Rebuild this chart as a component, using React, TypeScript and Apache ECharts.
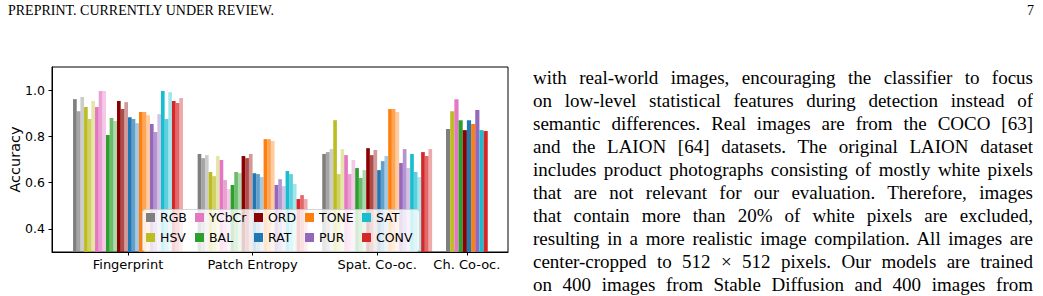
import React, { useEffect, useRef } from "react";
import * as echarts from "echarts";

const methods = ["RGB", "HSV", "YCbCr", "BAL", "ORD", "RAT", "TONE", "PUR", "SAT", "CONV"];
const methodColors = ["#7f7f7f", "#bcbd22", "#e377c2", "#2ca02c", "#8b0000", "#1f77b4", "#ff7f0e", "#9467bd", "#17becf", "#d62728"];
const groupLabels = ["Fingerprint", "Patch Entropy", "Spat. Co-oc.", "Ch. Co-oc."];
const groupCenters = [0, 1, 2, 2.72];
const shadeAlpha = [1, 0.7, 0.4];
const yTicks = [0.4, 0.6, 0.8, 1.0];

// accuracy per method, three variants each
const fingerprintAcc = [
  [0.961, 0.909, 0.970],
  [0.927, 0.875, 0.953],
  [0.927, 0.996, 0.996],
  [0.806, 0.879, 0.866],
  [0.953, 0.918, 0.948],
  [0.883, 0.875, 0.857],
  [0.905, 0.905, 0.892],
  [0.853, 0.819, 0.896],
  [0.996, 0.875, 0.991],
  [0.953, 0.944, 0.966],
];
const patchEntropyAcc = [
  [0.724, 0.706, 0.719],
  [0.646, 0.628, 0.715],
  [0.698, 0.611, 0.572],
  [0.590, 0.646, 0.641],
  [0.715, 0.706, 0.724],
  [0.641, 0.637, 0.624],
  [0.788, 0.788, 0.780],
  [0.590, 0.615, 0.585],
  [0.650, 0.637, 0.594],
  [0.529, 0.546, 0.529],
];
const spatCoocAcc = [
  [0.724, 0.732, 0.745],
  [0.870, 0.637, 0.745],
  [0.719, 0.637, 0.698],
  [0.663, 0.620, 0.654],
  [0.749, 0.719, 0.741],
  [0.654, 0.693, 0.715],
  [0.918, 0.918, 0.905],
  [0.685, 0.745, 0.663],
  [0.724, 0.646, 0.624],
  [0.732, 0.715, 0.745],
];
const chCoocAcc = [0.832, 0.909, 0.961, 0.870, 0.827, 0.870, 0.853, 0.914, 0.827, 0.823];

const paragraphLines = [
  "with real-world images, encouraging the classifier to focus",
  "on low-level statistical features during detection instead of",
  "semantic differences. Real images are from the COCO [63]",
  "and the LAION [64] datasets. The original LAION dataset",
  "includes product photographs consisting of mostly white pixels",
  "that are not relevant for our evaluation. Therefore, images",
  "that contain more than 20% of white pixels are excluded,",
  "resulting in a more realistic image compilation. All images are",
  "center-cropped to 512 \u00d7 512 pixels. Our models are trained",
  "on 400 images from Stable Diffusion and 400 images from",
];

const Y_MIN = 0.3;
const Y_MAX = 1.1;
const W3 = 0.0294;
const W1 = 0.0335;

function hexToRgba(hex: string, a: number) {
  const n = parseInt(hex.slice(1), 16);
  return `rgba(${(n >> 16) & 255},${(n >> 8) & 255},${n & 255},${a})`;
}

function buildSeries() {
  const tripleGroups = [fingerprintAcc, patchEntropyAcc, spatCoocAcc];
  return methods.map((name, k) => {
    const data: number[][] = [];
    tripleGroups.forEach((grp, g) => {
      grp[k].forEach((v, s) => {
        const j = k * 3 + s;
        data.push([groupCenters[g] + (j - 14.5) * W3, v, shadeAlpha[s], W3]);
      });
    });
    data.push([groupCenters[3] + (k - 4.5) * W1, chCoocAcc[k], 1, W1]);
    const color = methodColors[k];
    return {
      type: "custom",
      name,
      itemStyle: { color },
      encode: { x: 0, y: 1 },
      data,
      renderItem: (params: any, api: any) => {
        const x = api.value(0);
        const v = api.value(1);
        const a = api.value(2);
        const w = api.value(3);
        const p1 = api.coord([x - w / 2, v]);
        const p2 = api.coord([x + w / 2, Y_MIN]);
        return {
          type: "rect",
          shape: { x: p1[0], y: p1[1], width: p2[0] - p1[0], height: p2[1] - p1[1] },
          style: { fill: hexToRgba(color, a) },
        };
      },
    };
  });
}

const legendColLeft = [146, 195, 254, 305, 362];
const legendRowTop = [211, 231];

function buildLegends() {
  // column-major: two entries per column
  return methods.map((name, k) => ({
    data: [name],
    left: legendColLeft[Math.floor(k / 2)],
    top: legendRowTop[k % 2],
    padding: 0,
    icon: "rect",
    itemWidth: 9,
    itemHeight: 9,
    selectedMode: false,
    z: 20,
    textStyle: { fontSize: 12.5, fontFamily: "DejaVu Sans", color: "#000" },
  }));
}

export default function App() {
  const ref = useRef<HTMLDivElement>(null);
  useEffect(() => {
    if (!ref.current) return;
    const chart = echarts.init(ref.current, null, { renderer: "svg" });
    const option: any = {
      animation: false,
      textStyle: { fontFamily: "DejaVu Sans" },
      grid: {
        left: 52,
        top: 67,
        width: 456,
        height: 185,
        show: true,
        borderColor: "#000",
        borderWidth: 1,
        backgroundColor: "transparent",
        containLabel: false,
        outerBoundsMode: "none",
      },
      xAxis: {
        type: "value",
        min: -0.61,
        max: 3.05,
        splitLine: { show: false },
        axisLine: { show: true, onZero: false, lineStyle: { color: "#000", width: 1 } },
        axisTick: { show: true, customValues: groupCenters, length: 3.5, lineStyle: { color: "#000" } },
        axisLabel: {
          customValues: groupCenters,
          formatter: (v: number) => {
            const i = groupCenters.findIndex((c) => Math.abs(c - v) < 1e-6);
            return i >= 0 ? groupLabels[i] : "";
          },
          fontSize: 13,
          fontFamily: "DejaVu Sans",
          color: "#000",
          margin: 6,
        },
      },
      yAxis: {
        type: "value",
        min: Y_MIN,
        max: Y_MAX,
        splitLine: { show: false },
        axisLine: { show: true, onZero: false, lineStyle: { color: "#000", width: 1 } },
        axisTick: { show: true, customValues: yTicks, length: 3.5, lineStyle: { color: "#000" } },
        axisLabel: {
          customValues: yTicks,
          formatter: (v: number) => v.toFixed(1),
          fontSize: 12.5,
          fontFamily: "DejaVu Sans",
          color: "#000",
          margin: 7,
        },
        name: "Accuracy",
        nameLocation: "middle",
        nameGap: 30,
        nameMoveOverlap: false,
        nameTextStyle: { fontSize: 14.5, fontFamily: "DejaVu Sans", color: "#000" },
      },
      legend: buildLegends(),
      graphic: [
        {
          type: "rect",
          left: 142,
          top: 209,
          z: 10,
          shape: { width: 277, height: 42, r: 3 },
          style: { fill: "rgba(255,255,255,0.8)", stroke: "rgba(204,204,204,0.8)", lineWidth: 1 },
        },
      ],
      series: buildSeries(),
    };
    chart.setOption(option);
    return () => chart.dispose();
  }, []);

  return (
    <div
      style={{
        position: "absolute",
        left: 0,
        top: 0,
        width: 1043,
        height: 296,
        overflow: "hidden",
        background: "#fff",
      }}
    >
      <div
        style={{
          position: "absolute",
          left: 8,
          top: 3,
          fontFamily: '"Liberation Serif", serif',
          fontSize: 14,
          lineHeight: "16px",
          color: "#000",
          whiteSpace: "nowrap",
        }}
      >
        PREPRINT. CURRENTLY UNDER REVIEW.
      </div>
      <div
        style={{
          position: "absolute",
          left: 1027,
          top: 3,
          fontFamily: '"Liberation Serif", serif',
          fontSize: 14,
          lineHeight: "16px",
          color: "#000",
        }}
      >
        7
      </div>
      <div ref={ref} style={{ position: "absolute", left: 0, top: 0, width: 520, height: 296 }} />
      {paragraphLines.map((line, i) => (
        <div
          key={i}
          style={{
            position: "absolute",
            left: 533,
            top: 66 + i * 23,
            width: 500,
            height: 23,
            lineHeight: "23px",
            fontSize: 19,
            fontFamily: '"Liberation Serif", serif',
            color: "#000",
            textAlign: "justify",
            textAlignLast: "justify",
            overflow: "hidden",
          }}
        >
          {line}
        </div>
      ))}
    </div>
  );
}
